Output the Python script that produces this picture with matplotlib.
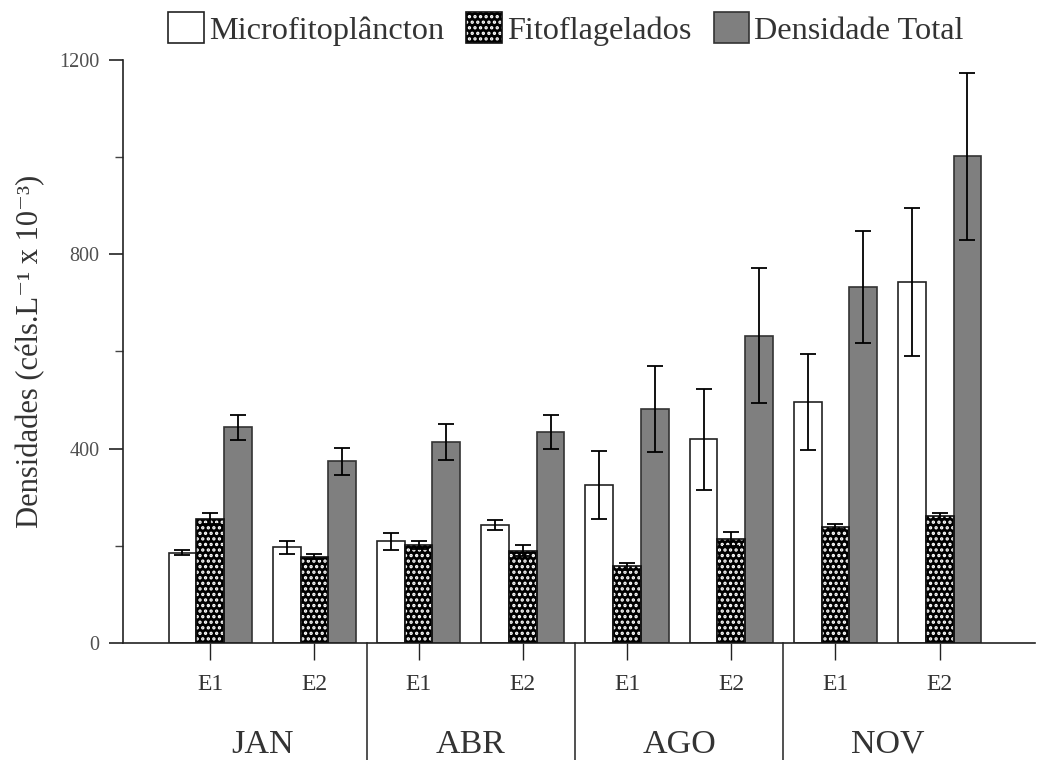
import matplotlib
matplotlib.use("Agg")
import matplotlib.pyplot as plt
import numpy as np
from matplotlib.patches import Patch
from matplotlib.legend_handler import HandlerTuple

plt.rcParams["font.family"] = ["Liberation Serif", "DejaVu Serif"]
plt.rcParams["hatch.linewidth"] = 1.6

# campaign / station layout
months = ["JAN", "ABR", "AGO", "NOV"]
stations = ["E1", "E2"] * 4

# densities (cells.L^-1 x 10^-3), mean and error per station
micro = [186, 197, 209, 243, 325, 419, 496, 743]
micro_err = [5, 14, 18, 11, 70, 104, 98, 153]
fito = [256, 178, 202, 190, 158, 214, 239, 261]
fito_err = [11, 5, 8, 11, 7, 14, 5, 6]
total = [444, 374, 413, 435, 482, 632, 732, 1002]
total_err = [26, 28, 37, 35, 89, 139, 115, 172]

TXT = "#333333"
x = np.arange(len(stations))
w = 0.266

fig = plt.figure(figsize=(10.4, 7.6), dpi=100)
ax = fig.add_axes([0.1183, 0.1539, 0.8767, 0.7672])

err_kw = dict(ecolor="black", elinewidth=1.3, capsize=6, capthick=1.3)

b_micro = ax.bar(x - w, micro, w, color="white", edgecolor="#222222",
                 linewidth=1.2, yerr=micro_err, error_kw=err_kw, zorder=2)
# dotted fill first, outline on top
b_fito_fill = ax.bar(x, fito, w, color="black", edgecolor="white",
                     hatch="...", linewidth=0, zorder=2)
b_fito = ax.bar(x, fito, w, fill=False, edgecolor="#111111", linewidth=1.2,
                yerr=fito_err, error_kw=err_kw, zorder=3)
b_total = ax.bar(x + w, total, w, color="#7f7f7f", edgecolor="#333333",
                 linewidth=1.2, yerr=total_err, error_kw=err_kw, zorder=2)

ax.set_xlim(-0.8365, 7.913)
ax.set_ylim(0, 1200)
ax.set_yticks([0, 400, 800, 1200])
ax.set_yticks([200, 600, 1000], minor=True)
ax.set_xticks(x)
ax.set_xticklabels(stations)

for s in ("top", "right"):
    ax.spines[s].set_visible(False)
for s in ("left", "bottom"):
    ax.spines[s].set_linewidth(1.2)
    ax.spines[s].set_color("#222222")

ax.tick_params(axis="y", which="major", length=10, width=1.2, pad=7,
               labelsize=14.5, labelcolor="#505050", color="#222222")
ax.tick_params(axis="y", which="minor", length=6, width=1.0, color="#444444")
ax.tick_params(axis="x", which="major", length=12, width=1.0, pad=10,
               labelsize=17, labelcolor=TXT, color="#222222")

ax.set_ylabel("Densidades (céls.L⁻¹ x 10⁻³)", fontsize=22,
              color=TXT, labelpad=10)

# month separators and labels below the axis
trans = ax.get_xaxis_transform()
for xs in (1.5, 3.5, 5.5):
    ax.plot([xs, xs], [0, -0.21], transform=trans, color="#333333",
            linewidth=1.2, clip_on=False)
for i, m in enumerate(months):
    ax.text(2 * i + 0.5, -0.174, m, transform=trans, ha="center",
            va="center", fontsize=24.5, color=TXT)

# legend with a two-layer patch for the dotted series
fito_proxy = (Patch(facecolor="black", edgecolor="white", hatch="...", linewidth=0),
              Patch(fill=False, edgecolor="#111111", linewidth=1.2))
micro_proxy = Patch(facecolor="white", edgecolor="#222222", linewidth=1.2)
total_proxy = Patch(facecolor="#7f7f7f", edgecolor="#333333", linewidth=1.2)
fig.legend([micro_proxy, fito_proxy, total_proxy],
           ["Microfitoplâncton", "Fitoflagelados", "Densidade Total"],
           handler_map={tuple: HandlerTuple(ndivide=1, pad=0)},
           loc="center", bbox_to_anchor=(0.544, 0.962), ncol=3, frameon=False,
           fontsize=23.2, handlelength=1.1, handleheight=1.1,
           handletextpad=0.15, columnspacing=0.7, labelcolor=TXT,
           borderpad=0, borderaxespad=0)

fig.savefig("out.png", dpi=100)
